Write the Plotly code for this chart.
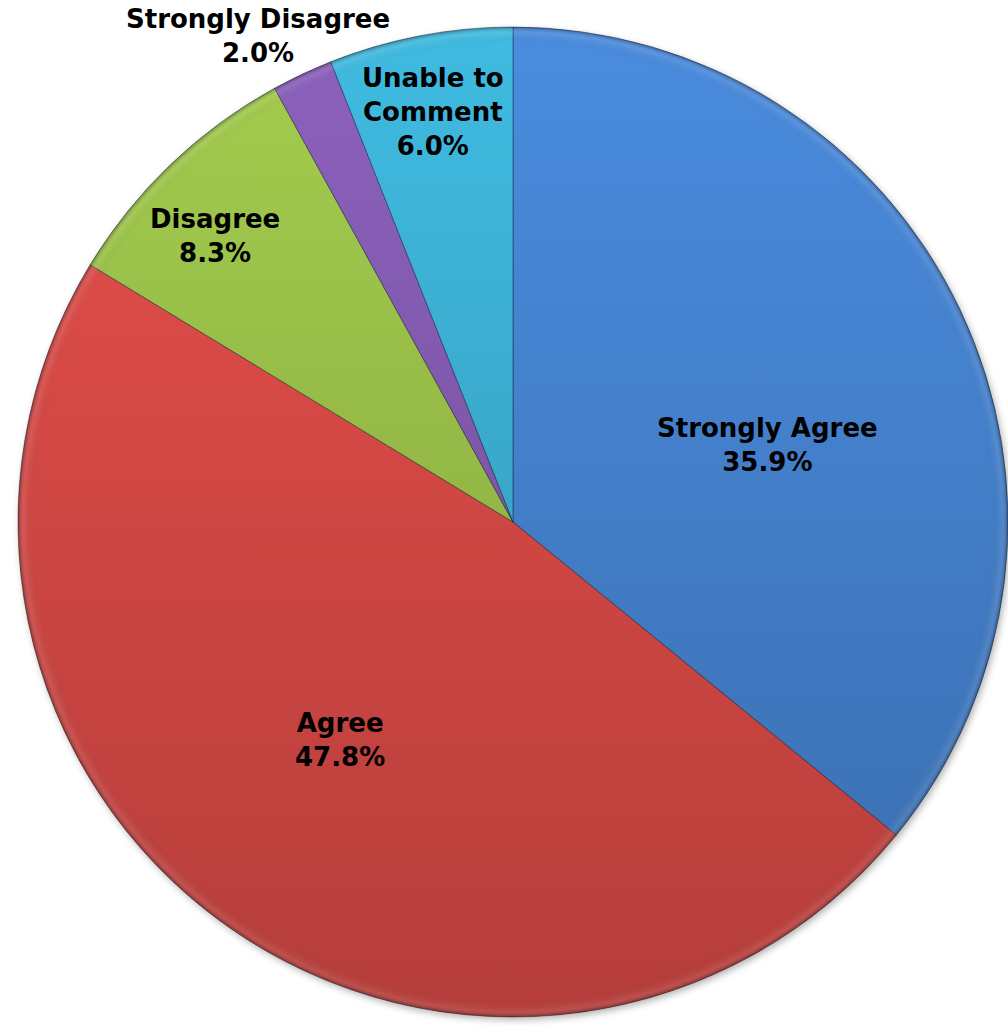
import base64
import plotly.graph_objects as go

# Survey responses, clockwise from 12 o'clock
categories = ["Strongly Agree", "Agree", "Disagree", "Strongly Disagree", "Unable to Comment"]
shares = [35.9, 47.8, 8.3, 2.0, 6.0]
label_lines = [["Strongly Agree"], ["Agree"], ["Disagree"], ["Strongly Disagree"], ["Unable to", "Comment"]]

colors = ["#4A8CDF", "#E84F4B", "#A4CD4E", "#8C61BD", "#40BBE1"]

W, H = 1008, 1026
CX, CY, R = 513, 522, 495  # pie centre and radius in pixels

# label anchor points (pixels, centre of the text block)
label_pos = [(767, 445), (340, 740), (215, 236), (258, 36), (433, 112)]


def px_to_paper(x, y):
    return min(max(x / W, 0), 1), min(max(1 - y / H, 0), 1)


dx0, dy0 = px_to_paper(CX - R, CY - R)
dx1, dy1 = px_to_paper(CX + R, CY + R)

fig = go.Figure(
    go.Pie(
        labels=categories,
        values=shares,
        sort=False,
        direction="clockwise",
        rotation=0,
        marker=dict(colors=colors, line=dict(color="rgba(20,30,50,0.45)", width=1)),
        textinfo="none",
        hoverinfo="label+percent",
        showlegend=False,
        domain=dict(x=[dx0, dx1], y=[dy1, dy0]),
    )
)

# shading overlay: darkening towards the bottom plus a soft rim
shade_svg = """<svg xmlns='http://www.w3.org/2000/svg' width='1000' height='1000' viewBox='0 0 1000 1000'>
<defs>
<linearGradient id='g' x1='0' y1='0' x2='0' y2='1'>
<stop offset='0' stop-color='#000000' stop-opacity='0.0'/>
<stop offset='1' stop-color='#000000' stop-opacity='0.22'/>
</linearGradient>
<radialGradient id='r' cx='0.5' cy='0.5' r='0.5'>
<stop offset='0.965' stop-color='#000000' stop-opacity='0'/>
<stop offset='0.988' stop-color='#ffffff' stop-opacity='0.08'/>
<stop offset='1' stop-color='#000000' stop-opacity='0.30'/>
</radialGradient>
</defs>
<circle cx='500' cy='500' r='500' fill='url(#g)'/>
<circle cx='500' cy='500' r='500' fill='url(#r)'/>
</svg>"""

shadow_svg = """<svg xmlns='http://www.w3.org/2000/svg' width='1040' height='1040' viewBox='0 0 1040 1040'>
<defs><filter id='b' x='-10%' y='-10%' width='120%' height='120%'><feGaussianBlur stdDeviation='4'/></filter></defs>
<circle cx='522' cy='523' r='500' fill='#000000' fill-opacity='0.30' filter='url(#b)'/>
</svg>"""


def svg_uri(s):
    return "data:image/svg+xml;base64," + base64.b64encode(s.encode()).decode()


pad = 20 * R / 500
images = [
    dict(source=svg_uri(shadow_svg), xref="paper", yref="paper",
         x=(CX - R - pad) / W, y=1 - (CY - R - pad) / H,
         sizex=(2 * R + 2 * pad) / W, sizey=(2 * R + 2 * pad) / H,
         sizing="stretch", xanchor="left", yanchor="top", layer="below"),
    dict(source=svg_uri(shade_svg), xref="paper", yref="paper", x=dx0, y=dy0,
         sizex=dx1 - dx0, sizey=dy0 - dy1, sizing="stretch",
         xanchor="left", yanchor="top", layer="above"),
]

annotations = []
for lines, val, (lx, ly) in zip(label_lines, shares, label_pos):
    ax, ay = px_to_paper(lx, ly)
    annotations.append(dict(
        x=ax, y=ay, xref="paper", yref="paper", xanchor="center", yanchor="middle",
        text="<br>".join(lines + [f"{val:.1f}%"]), showarrow=False, align="center",
        font=dict(family="DejaVu Sans", size=26, color="#000000", weight="bold"),
    ))

fig.update_layout(
    width=W, height=H,
    margin=dict(l=0, r=0, t=0, b=0),
    paper_bgcolor="#ffffff",
    plot_bgcolor="#ffffff",
    images=images,
    annotations=annotations,
)

fig.write_html("out.html")
